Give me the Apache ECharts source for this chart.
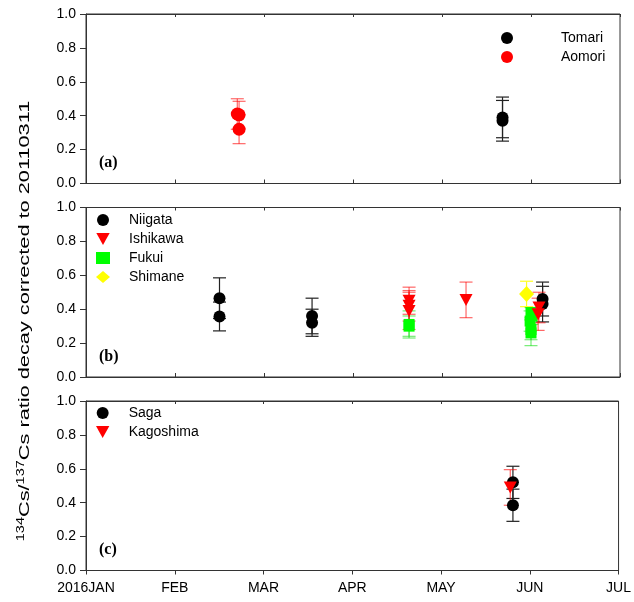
<!DOCTYPE html>
<html>
<head>
<meta charset="utf-8">
<script src="https://cdn.jsdelivr.net/npm/echarts@6/dist/echarts.min.js"></script>
<style>html,body{margin:0;padding:0;background:#fff}#c{width:634px;height:602px}</style>
</head>
<body>
<div id="c"></div>
<script>
// x in months since 2016-01-01 (0 = JAN, 6 = JUL); [month, ratio, error]
const monthLabels = ['2016JAN', 'FEB', 'MAR', 'APR', 'MAY', 'JUN', 'JUL'];
const yTicks = [0, 0.2, 0.4, 0.6, 0.8, 1.0];

// panel (a)
const tomari = [[4.68, 0.39, 0.12], [4.68, 0.37, 0.12]];
const aomori = [[1.70, 0.41, 0.09], [1.72, 0.405, 0.08], [1.72, 0.32, 0.085]];
// panel (b)
const niigata = [[1.50, 0.465, 0.12], [1.50, 0.357, 0.085], [2.54, 0.36, 0.105], [2.54, 0.32, 0.08], [5.13, 0.46, 0.10], [5.13, 0.43, 0.105]];
const ishikawa = [[3.63, 0.45, 0.08], [3.63, 0.42, 0.09], [3.63, 0.39, 0.11], [4.27, 0.455, 0.105], [5.09, 0.41, 0.09], [5.08, 0.37, 0.095]];
const fukui = [[3.63, 0.31, 0.08], [3.63, 0.30, 0.06], [5.00, 0.38, 0.03], [5.01, 0.36, 0.05], [4.99, 0.33, 0.06], [5.00, 0.28, 0.06], [5.00, 0.26, 0.075]];
const shimane = [[4.95, 0.49, 0.075]];
// panel (c)
const saga = [[4.81, 0.52, 0.095], [4.81, 0.385, 0.095]];
const kagoshima = [[4.78, 0.49, 0.105]];

const chart = echarts.init(document.getElementById('c'));
const downTri = 'path://M0,0L10,0L5,9Z';
const FONT = 'Liberation Sans, Arial, sans-serif';

const gridTops = [14, 207.5, 401];
const grids = gridTops.map(t => ({left: 86, right: 14, top: t, height: 169.5, show: true, borderColor: '#333', borderWidth: 1, backgroundColor: 'transparent'}));

const xAxes = [];
const yAxes = [];
for (let i = 0; i < 3; i++) {
  const last = i === 2;
  xAxes.push({
    type: 'value', gridIndex: i, min: 0, max: 6, interval: 1, position: 'bottom',
    axisLine: {show: true, lineStyle: {color: '#333'}},
    axisTick: {show: true, inside: !last, length: 4, lineStyle: {color: '#333'}},
    axisLabel: {show: last, formatter: v => monthLabels[v], fontSize: 14, color: '#000', fontFamily: FONT, margin: 11},
    splitLine: {show: false}
  });
  xAxes.push({
    type: 'value', gridIndex: i, min: 0, max: 6, interval: 1, position: 'top',
    axisLine: {show: true, lineStyle: {color: '#333'}},
    axisTick: {show: true, inside: true, length: 3, lineStyle: {color: '#333'}},
    axisLabel: {show: false}, splitLine: {show: false}
  });
  yAxes.push({
    type: 'value', gridIndex: i, min: 0, max: 1, interval: 0.2,
    axisLine: {show: true, lineStyle: {color: '#333'}},
    axisTick: {show: true, inside: false, length: 6, lineStyle: {color: '#333'}},
    axisLabel: {formatter: v => v.toFixed(1), fontSize: 14, color: '#000', fontFamily: FONT, margin: 10},
    splitLine: {show: false}
  });
}

function errSeries(name, data, panel, color) {
  return {
    name: name + '_err', type: 'custom', xAxisIndex: panel * 2, yAxisIndex: panel,
    data: data, encode: {x: 0, y: 1}, z: 1, silent: true,
    renderItem: function (params, api) {
      const x = api.value(0), y = api.value(1), e = api.value(2);
      const t = api.coord([x, y + e]);
      const b = api.coord([x, y - e]);
      const h = 6.5;
      const st = {stroke: color, lineWidth: 1.2};
      return {type: 'group', children: [
        {type: 'line', shape: {x1: t[0], y1: t[1], x2: b[0], y2: b[1]}, style: st},
        {type: 'line', shape: {x1: t[0] - h, y1: t[1], x2: t[0] + h, y2: t[1]}, style: st},
        {type: 'line', shape: {x1: b[0] - h, y1: b[1], x2: b[0] + h, y2: b[1]}, style: st}
      ]};
    }
  };
}
function ptSeries(name, data, panel, color, symbol, size) {
  return {
    name: name, type: 'scatter', xAxisIndex: panel * 2, yAxisIndex: panel,
    data: data.map(d => [d[0], d[1]]), symbol: symbol, symbolSize: size,
    itemStyle: {color: color, opacity: 1}, z: 3
  };
}

const RED = '#ff0000', RED_E = 'rgba(255,0,0,0.6)';
const GREEN = '#00ff00', GREEN_E = 'rgba(0,220,0,0.55)';
const BLACK = '#000000', BLACK_E = '#222222';
const YEL = '#ffff00', YEL_E = '#ffff22';

const series = [
  errSeries('Aomori', aomori, 0, RED_E),
  errSeries('Tomari', tomari, 0, BLACK_E),
  ptSeries('Aomori', aomori, 0, RED, 'circle', 13),
  ptSeries('Tomari', tomari, 0, BLACK, 'circle', 12),

  errSeries('Niigata', niigata, 1, BLACK_E),
  errSeries('Fukui', fukui, 1, GREEN_E),
  errSeries('Ishikawa', ishikawa, 1, RED_E),
  errSeries('Shimane', shimane, 1, YEL_E),
  ptSeries('Niigata', niigata, 1, BLACK, 'circle', 12),
  ptSeries('Fukui', fukui, 1, GREEN, 'rect', 11),
  ptSeries('Ishikawa', ishikawa, 1, RED, downTri, [13, 12]),
  ptSeries('Shimane', shimane, 1, YEL, 'diamond', [15, 16]),

  errSeries('Saga', saga, 2, BLACK_E),
  errSeries('Kagoshima', kagoshima, 2, RED_E),
  ptSeries('Saga', saga, 2, BLACK, 'circle', 12),
  ptSeries('Kagoshima', kagoshima, 2, RED, downTri, [13, 12])
];

const legendText = {fontSize: 14, color: '#000', fontFamily: FONT};
const legends = [
  {data: ['Tomari', 'Aomori'], orient: 'vertical', left: 501, top: 31, padding: 0, itemGap: 5, itemWidth: 14, itemHeight: 12,
   textStyle: Object.assign({padding: [0, 0, 0, 42]}, legendText), selectedMode: false},
  {data: ['Niigata', 'Ishikawa', 'Fukui', 'Shimane'], orient: 'vertical', left: 96, top: 213, padding: 0, itemGap: 5, itemWidth: 14, itemHeight: 12,
   textStyle: Object.assign({padding: [0, 0, 0, 14]}, legendText), selectedMode: false},
  {data: ['Saga', 'Kagoshima'], orient: 'vertical', left: 96, top: 406, padding: 0, itemGap: 5, itemWidth: 14, itemHeight: 12,
   textStyle: Object.assign({padding: [0, 0, 0, 14]}, legendText), selectedMode: false}
];

const panelLabels = ['(a)', '(b)', '(c)'];
const graphics = panelLabels.map((t, i) => ({
  type: 'text', left: 99, top: gridTops[i] + 141,
  style: {text: t, font: 'bold 16px "Liberation Serif", "Times New Roman", serif', fill: '#000'}
}));
graphics.push({
  type: 'text', x: 25, y: 321, rotation: Math.PI / 2, scaleX: 1.45, scaleY: 1,
  style: {
    text: '{s|134}{n|Cs/}{s|137}{n|Cs ratio decay corrected to 20110311}',
    align: 'center', verticalAlign: 'middle', fill: '#000',
    rich: {
      s: {fontSize: 10, fontFamily: FONT, verticalAlign: 'top', lineHeight: 18, fill: '#000'},
      n: {fontSize: 15, fontFamily: FONT, lineHeight: 18, fill: '#000'}
    }
  }
});

chart.setOption({
  animation: false,
  backgroundColor: '#fff',
  grid: grids,
  xAxis: xAxes,
  yAxis: yAxes,
  legend: legends,
  graphic: graphics,
  series: series
});
</script>
</body>
</html>
